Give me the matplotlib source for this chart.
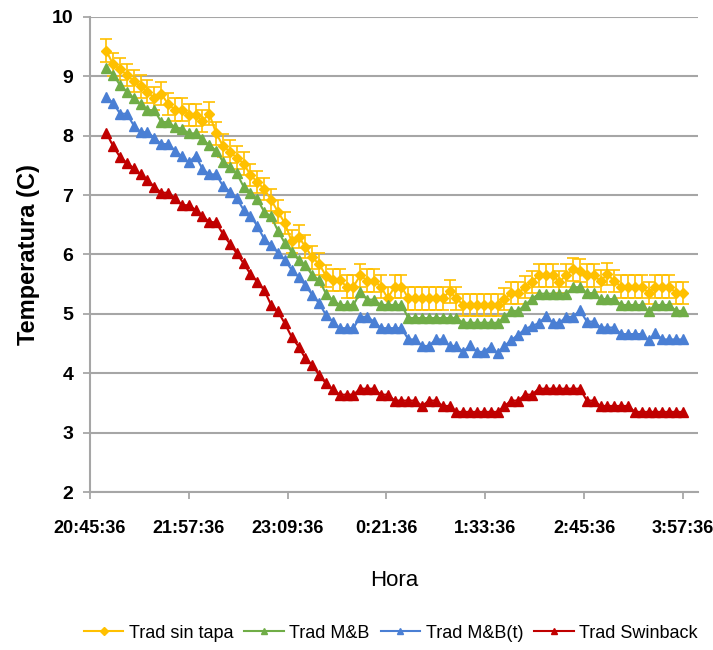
import numpy as np
import matplotlib
matplotlib.use("Agg")
import matplotlib.pyplot as plt
from matplotlib.lines import Line2D

plt.rcParams['font.family'] = ['Liberation Sans', 'DejaVu Sans']

# Readings every 5 minutes, first one 12 minutes after 20:45:36
minutes = np.arange(85) * 5 + 12

tick_minutes = [0, 72, 144, 216, 288, 360, 432]
tick_labels = ["20:45:36", "21:57:36", "23:09:36", "0:21:36", "1:33:36", "2:45:36", "3:57:36"]

sin_tapa = [9.43, 9.20, 9.12, 9.02, 8.92, 8.83, 8.74, 8.63, 8.71, 8.53,
            8.44, 8.44, 8.35, 8.35, 8.25, 8.37, 8.04, 7.83, 7.73, 7.63,
            7.53, 7.34, 7.22, 7.10, 6.92, 6.72, 6.53, 6.22, 6.30, 6.13,
            5.95, 5.84, 5.64, 5.57, 5.57, 5.46, 5.46, 5.65, 5.56, 5.56,
            5.46, 5.26, 5.46, 5.46, 5.26, 5.26, 5.26, 5.26, 5.26, 5.26,
            5.38, 5.26, 5.15, 5.15, 5.15, 5.15, 5.15, 5.15, 5.25, 5.35,
            5.35, 5.45, 5.54, 5.65, 5.65, 5.65, 5.54, 5.65, 5.75, 5.73,
            5.65, 5.65, 5.55, 5.67, 5.55, 5.46, 5.46, 5.46, 5.46, 5.35,
            5.46, 5.46, 5.46, 5.35, 5.35]
sin_tapa_err = 0.19

mb = [9.14, 9.03, 8.85, 8.74, 8.63, 8.53, 8.43, 8.43, 8.23, 8.23,
      8.14, 8.12, 8.04, 8.04, 7.94, 7.84, 7.75, 7.56, 7.47, 7.37,
      7.14, 7.04, 6.93, 6.72, 6.64, 6.40, 6.19, 6.05, 5.91, 5.82,
      5.65, 5.57, 5.34, 5.23, 5.15, 5.15, 5.15, 5.36, 5.24, 5.24,
      5.15, 5.15, 5.15, 5.15, 4.93, 4.93, 4.93, 4.93, 4.93, 4.93,
      4.93, 4.93, 4.85, 4.85, 4.85, 4.85, 4.85, 4.85, 4.94, 5.05,
      5.05, 5.15, 5.25, 5.34, 5.34, 5.34, 5.34, 5.34, 5.45, 5.45,
      5.35, 5.35, 5.25, 5.25, 5.25, 5.15, 5.15, 5.15, 5.15, 5.05,
      5.15, 5.15, 5.15, 5.05, 5.05]

mb_t = [8.65, 8.55, 8.37, 8.37, 8.17, 8.06, 8.06, 7.96, 7.86, 7.86,
        7.75, 7.65, 7.55, 7.66, 7.44, 7.35, 7.35, 7.15, 7.06, 6.95,
        6.75, 6.65, 6.48, 6.26, 6.16, 6.03, 5.91, 5.74, 5.62, 5.48,
        5.32, 5.18, 4.98, 4.87, 4.76, 4.76, 4.76, 4.95, 4.95, 4.87,
        4.76, 4.76, 4.76, 4.76, 4.57, 4.57, 4.46, 4.46, 4.57, 4.57,
        4.46, 4.46, 4.36, 4.47, 4.36, 4.36, 4.45, 4.34, 4.46, 4.56,
        4.65, 4.74, 4.80, 4.84, 4.96, 4.85, 4.85, 4.95, 4.95, 5.06,
        4.87, 4.87, 4.77, 4.77, 4.77, 4.66, 4.66, 4.66, 4.66, 4.56,
        4.67, 4.57, 4.57, 4.57, 4.57]

swinback = [8.05, 7.82, 7.64, 7.54, 7.45, 7.35, 7.25, 7.14, 7.04, 7.04,
            6.95, 6.83, 6.83, 6.75, 6.65, 6.55, 6.54, 6.34, 6.18, 6.02,
            5.85, 5.67, 5.54, 5.40, 5.15, 5.04, 4.84, 4.61, 4.45, 4.25,
            4.14, 3.97, 3.83, 3.73, 3.64, 3.64, 3.64, 3.74, 3.74, 3.74,
            3.64, 3.64, 3.54, 3.54, 3.54, 3.54, 3.45, 3.54, 3.54, 3.45,
            3.45, 3.35, 3.35, 3.35, 3.35, 3.35, 3.35, 3.35, 3.45, 3.54,
            3.54, 3.64, 3.64, 3.74, 3.74, 3.74, 3.74, 3.74, 3.74, 3.74,
            3.54, 3.54, 3.45, 3.45, 3.45, 3.45, 3.45, 3.35, 3.35, 3.35,
            3.35, 3.35, 3.35, 3.35, 3.35]

series_names = ["Trad sin tapa", "Trad M&B", "Trad M&B(t)", "Trad Swinback"]
colors = ["#FFC000", "#70AD47", "#4A7FD4", "#C00000"]
markers = ["D", "^", "^", "^"]

fig = plt.figure(figsize=(7.13, 6.5), dpi=100)
ax = fig.add_axes([0.126, 0.243, 0.853, 0.731])

ax.errorbar(minutes, sin_tapa, yerr=sin_tapa_err, color=colors[0], marker=markers[0],
            markersize=5.5, linewidth=1.5, elinewidth=1.2, capsize=4, capthick=1.2,
            zorder=3)
for vals, col, mk in zip([mb, mb_t, swinback], colors[1:], markers[1:]):
    ax.plot(minutes, vals, color=col, marker=mk, markersize=6.5, linewidth=1.5, zorder=4)

ax.set_ylim(2, 10)
ax.set_xlim(0, 443)
ax.set_yticks(range(2, 11))
ax.set_yticklabels([str(v) for v in range(2, 11)], fontsize=14, fontweight="bold")
ax.set_xticks(tick_minutes)
ax.set_xticklabels(tick_labels, fontsize=13, fontweight="bold")
ax.tick_params(axis="both", direction="out", length=5, color="#A0A0A0", width=1.2)
ax.tick_params(axis="x", pad=15)
ax.tick_params(axis="y", pad=7)

ax.grid(axis="y", color="#A6A6A6", linewidth=1.5, zorder=0)
ax.set_axisbelow(True)
for side in ["top", "right"]:
    ax.spines[side].set_visible(False)
for side in ["left", "bottom"]:
    ax.spines[side].set_color("#A6A6A6")
    ax.spines[side].set_linewidth(1.5)

ax.set_ylabel("Temperatura (C)", fontsize=17, fontweight="bold", labelpad=8)
ax.set_xlabel("Hora", fontsize=16, labelpad=24)

handles = [Line2D([], [], color=c, marker=m, markersize=4, linewidth=1.5)
           for c, m in zip(colors, markers)]
fig.legend(handles, series_names, loc="center", bbox_to_anchor=(0.548, 0.026), ncol=4,
           frameon=False, fontsize=13, handlelength=2.2, handletextpad=0.3,
           columnspacing=0.6)

fig.savefig("out.png", dpi=100)
